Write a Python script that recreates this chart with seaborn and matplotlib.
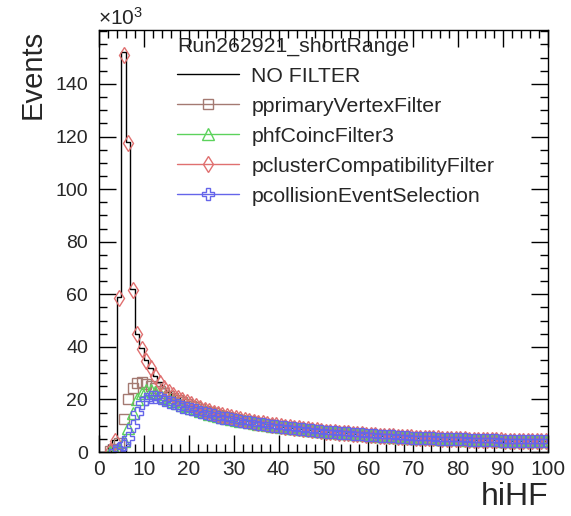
import numpy as np
import pandas as pd
import matplotlib
matplotlib.use("Agg")
import matplotlib.pyplot as plt
from matplotlib.lines import Line2D
import seaborn as sns

# ---------------- data (values in units of 10^3 events, 1-wide bins 0..100) ----------------
bin_edges = list(range(0, 101))

no_filter = [0, 0, 0.3, 4.5, 59, 152, 118, 62, 45, 39.5,
             35, 32, 29, 26.5, 24.5, 23, 21.8, 20.7, 19.8, 19.0,
             18.2, 17.5, 16.8, 16.2, 15.6, 15.1, 14.6, 14.1, 13.7, 13.3,
             12.9, 12.5, 12.2, 11.9, 11.6, 11.3, 11.0, 10.7, 10.4, 10.2,
             9.9, 9.7, 9.5, 9.3, 9.1, 8.9, 8.7, 8.5, 8.3, 8.1,
             7.9, 7.8, 7.6, 7.5, 7.3, 7.2, 7.0, 6.9, 6.8, 6.7,
             6.5, 6.4, 6.3, 6.2, 6.1, 6.0, 5.9, 5.8, 5.7, 5.6,
             5.5, 5.45, 5.4, 5.3, 5.25, 5.2, 5.1, 5.05, 5.0, 4.95,
             4.9, 4.85, 4.8, 4.75, 4.7, 4.65, 4.6, 4.55, 4.5, 4.45,
             4.4, 4.38, 4.35, 4.3, 4.28, 4.25, 4.2, 4.18, 4.15, 4.1]

primary_vertex = [0, 0, 0.2, 1.0, 3.5, 12.5, 20, 24.5, 26.3, 26.5,
                  26.0, 25.2, 24.3, 23.3, 22.3, 21.4, 20.6, 19.8, 19.1, 18.4,
                  17.6, 16.98, 16.31, 15.75, 15.18, 14.71, 14.24, 13.76, 13.38, 13.01,
                  12.64, 12.25, 11.97, 11.69, 11.39, 11.11, 10.82, 10.53, 10.24, 10.06,
                  9.76, 9.57, 9.38, 9.19, 8.99, 8.8, 8.6, 8.42, 8.22, 8.02,
                  7.82, 7.72, 7.52, 7.43, 7.23, 7.13, 6.93, 6.83, 6.73, 6.63,
                  6.44, 6.34, 6.24, 6.14, 6.04, 5.94, 5.84, 5.74, 5.64, 5.54,
                  5.45, 5.4, 5.35, 5.25, 5.2, 5.15, 5.05, 5.0, 4.95, 4.9,
                  4.85, 4.8, 4.75, 4.7, 4.65, 4.6, 4.55, 4.5, 4.46, 4.41,
                  4.36, 4.34, 4.31, 4.26, 4.24, 4.21, 4.16, 4.14, 4.11, 4.06]

hf_coinc = [0, 0, 0.1, 0.5, 1.5, 4, 9, 15, 20, 22.5,
            23.5, 23.5, 23.0, 22.0, 21.0, 20.2, 19.4, 18.7, 18.0, 17.4,
            16.8, 16.3, 15.65, 15.13, 14.6, 14.16, 13.72, 13.28, 12.93, 12.58,
            12.26, 11.9, 11.64, 11.36, 11.1, 10.83, 10.56, 10.29, 10.02, 9.84,
            9.56, 9.39, 9.21, 9.03, 8.85, 8.67, 8.48, 8.3, 8.12, 7.93,
            7.74, 7.66, 7.47, 7.37, 7.17, 7.07, 6.88, 6.78, 6.68, 6.58,
            6.38, 6.28, 6.19, 6.09, 5.99, 5.89, 5.79, 5.69, 5.59, 5.5,
            5.4, 5.35, 5.3, 5.2, 5.15, 5.1, 5.0, 4.95, 4.91, 4.86,
            4.81, 4.76, 4.71, 4.66, 4.61, 4.56, 4.51, 4.46, 4.41, 4.36,
            4.31, 4.29, 4.26, 4.22, 4.2, 4.17, 4.12, 4.1, 4.07, 4.02]

cluster_compat = [0, 0, 0.3, 4.3, 58.5, 151, 117.5, 61.5, 44.7, 39.3,
                  34.8, 31.8, 28.9, 26.4, 24.4, 22.9, 21.7, 20.6, 19.7, 18.9,
                  18.1, 17.4, 16.7, 16.1, 15.5, 15.0, 14.5, 14.0, 13.6, 13.2,
                  12.8, 12.4, 12.1, 11.8, 11.5, 11.2, 10.9, 10.6, 10.3, 10.1,
                  9.8, 9.6, 9.4, 9.2, 9.0, 8.8, 8.6, 8.4, 8.2, 8.0,
                  7.8, 7.7, 7.5, 7.4, 7.2, 7.1, 6.9, 6.8, 6.7, 6.6,
                  6.45, 6.35, 6.25, 6.15, 6.05, 5.95, 5.85, 5.75, 5.65, 5.55,
                  5.45, 5.4, 5.35, 5.25, 5.2, 5.15, 5.05, 5.0, 4.95, 4.9,
                  4.85, 4.8, 4.75, 4.7, 4.65, 4.6, 4.55, 4.5, 4.45, 4.4,
                  4.35, 4.33, 4.3, 4.25, 4.23, 4.2, 4.15, 4.13, 4.1, 4.05]

collision_sel = [0, 0, 0, 0.4, 1.2, 3, 5.5, 10, 15, 18.5,
                 20.0, 21.0, 20.9, 20.5, 19.9, 19.2, 18.5, 17.9, 17.3, 16.8,
                 16.3, 15.8, 15.25, 14.8, 14.3, 13.9, 13.5, 13.1, 12.75, 12.45,
                 12.1, 11.8, 11.5, 11.25, 11.0, 10.75, 10.5, 10.2, 9.95, 9.75,
                 9.5, 9.35, 9.15, 9.0, 8.8, 8.65, 8.45, 8.3, 8.1, 7.9,
                 7.75, 7.68, 7.49, 7.39, 7.19, 7.09, 6.9, 6.8, 6.7, 6.6,
                 6.4, 6.3, 6.21, 6.11, 6.01, 5.91, 5.81, 5.71, 5.61, 5.52,
                 5.42, 5.37, 5.32, 5.22, 5.17, 5.12, 5.02, 4.97, 4.93, 4.88,
                 4.83, 4.78, 4.73, 4.68, 4.63, 4.58, 4.53, 4.48, 4.43, 4.38,
                 4.33, 4.31, 4.28, 4.24, 4.22, 4.19, 4.14, 4.12, 4.09, 4.04]

legend_title = "Run262921_shortRange"
series_labels = ["NO FILTER", "pprimaryVertexFilter", "phfCoincFilter3",
                 "pclusterCompatibilityFilter", "pcollisionEventSelection"]
x_label = "hiHF"
y_label = "Events"

# ---------------- style ----------------
sns.set_theme(style="ticks")
plt.rcParams["font.family"] = ["Liberation Sans", "DejaVu Sans"]
plt.rcParams["mathtext.fontset"] = "custom"
plt.rcParams["mathtext.rm"] = "Liberation Sans"
plt.rcParams["mathtext.it"] = "Liberation Sans:italic"

FONT = "Liberation Sans"
fig = plt.figure(figsize=(5.71, 5.16), dpi=100)
ax = fig.add_axes([0.1734, 0.124, 0.7863, 0.8178])

edges = [float(e) for e in bin_edges]
centers = [0.5 * (edges[i] + edges[i + 1]) for i in range(len(edges) - 1)]

# NO FILTER histogram outline
df_nf = pd.DataFrame({"x": centers, "w": no_filter})
sns.histplot(data=df_nf, x="x", weights="w", bins=edges, element="step", fill=False,
             color="black", linewidth=1.0, ax=ax)

marker_series = [
    (primary_vertex, "#a47a72", "s", 7.5),
    (hf_coinc, "#5cd25c", "^", 8.0),
    (cluster_compat, "#e07070", "d", 8.5),
    (collision_sel, "#6565ea", "P", 8.5),
]
for vals, col, mk, ms in marker_series:
    df = pd.DataFrame({"x": centers, "y": vals})
    df = df[df["y"] > 0]
    sns.lineplot(data=df, x="x", y="y", ax=ax, errorbar=None, linestyle="",
                 marker=mk, markersize=ms, markerfacecolor="none",
                 markeredgecolor=col, markeredgewidth=1.0, color=col)

ax.set_xlim(0, 100)
ax.set_ylim(0, 160.5)

ax.set_xticks(np.arange(0, 101, 10))
ax.set_xticks(np.arange(0, 101, 2), minor=True)
ax.set_yticks(np.arange(0, 141, 20))
ax.set_yticks(np.arange(0, 161, 5), minor=True)
ax.tick_params(axis="both", which="both", direction="in", top=True, right=True,
               width=1.0, color="black")
ax.tick_params(axis="x", which="major", labelsize=15, pad=6)
ax.tick_params(axis="y", which="major", labelsize=14, pad=8)
ax.tick_params(axis="both", which="major", length=12)
ax.tick_params(axis="both", which="minor", length=6)
for lab in ax.get_xticklabels() + ax.get_yticklabels():
    lab.set_fontfamily(FONT)
for sp in ax.spines.values():
    sp.set_visible(True)
    sp.set_color("black")
    sp.set_linewidth(1.0)

ax.set_xlabel(x_label, fontsize=23, loc="right", fontfamily=FONT, labelpad=2)
ax.set_ylabel(y_label, fontsize=21, loc="top", fontfamily=FONT, labelpad=6)
ax.text(-0.003, 1.003, r"$\times$10$^{3}$", transform=ax.transAxes, fontsize=15,
        fontfamily=FONT, ha="left", va="bottom")

handles = [Line2D([], [], color="black", linewidth=1.0)]
for vals, col, mk, ms in marker_series:
    handles.append(Line2D([], [], color=col, linewidth=1.0, marker=mk, markersize=ms,
                          markerfacecolor="none", markeredgecolor=col))
leg = ax.legend(handles, series_labels, title=legend_title, frameon=False,
                loc="upper left", bbox_to_anchor=(0.155, 1.005), fontsize=15.3,
                title_fontsize=15.3, handlelength=2.9, labelspacing=0.52,
                handletextpad=0.6, borderaxespad=0.0)
leg._legend_box.align = "left"
for t in leg.get_texts():
    t.set_fontfamily(FONT)
leg.get_title().set_fontfamily(FONT)

fig.savefig("out.png", dpi=100)
